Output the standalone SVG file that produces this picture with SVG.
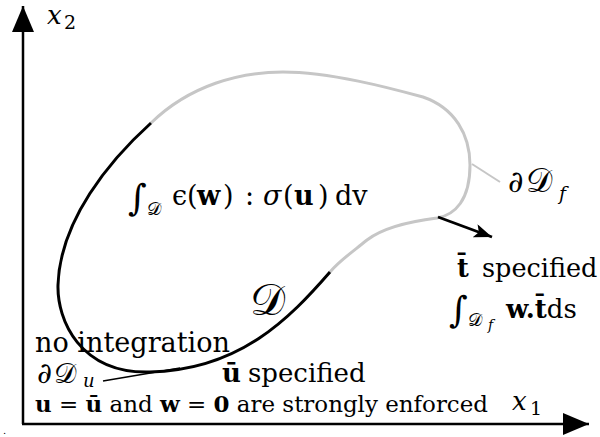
<svg xmlns="http://www.w3.org/2000/svg" width="600" height="437" viewBox="0 0 600 437">
<style>
text{font-family:'DejaVu Serif',serif;fill:#000}
.i{font-style:italic}
.b{font-weight:bold}
.ax{stroke:#000;stroke-width:2.5;fill:none}
.blk{stroke:#000;stroke-width:3;fill:none;stroke-linecap:butt}
.gry{stroke:#c6c6c6;stroke-width:3;fill:none}
</style>
<defs>
<marker id="ah" markerUnits="userSpaceOnUse" markerWidth="30" markerHeight="26" refX="26" refY="11" orient="auto">
<path d="M0,0 L26,11 L0,22 Z" fill="#000"/>
</marker>
<marker id="sh" markerUnits="userSpaceOnUse" markerWidth="22" markerHeight="16" refX="18" refY="7" orient="auto">
<path d="M0,0 L18,7 L0,14 L4,7 Z" fill="#000"/>
</marker>
</defs>
<g id="axes">
<path class="ax" d="M23,424 L23,6" marker-end="url(#ah)"/>
<path class="ax" d="M22,424 L589,424" marker-end="url(#ah)"/>
<text class="i" x="47" y="24" font-size="26">x</text>
<text x="64" y="29" font-size="19">2</text>
<text class="i" x="512" y="410" font-size="26">x</text>
<text x="530" y="415" font-size="19">1</text>
</g>
<g id="domain">
<path class="gry" d="M151,123 C190,85 240,72 283,72 C330,72 390,88 423,97 C455,108 470,135 470,165 C470,200 455,215 437,218 C405,222 380,230 367,240 C355,250 340,260 330,272"/>
<path class="blk" d="M330,272 C290,318 240,370 150,372 C80,374 57,320 58,285 C60,220 110,160 151,123"/>
<text x="250" y="315" font-size="44">𝒟</text>
</g>
<g id="connectors">
<line x1="472" y1="164" x2="500" y2="182" stroke="#c6c6c6" stroke-width="2"/>
<line x1="103" y1="381" x2="180" y2="368" stroke="#000" stroke-width="1.6"/>
<line x1="438" y1="217" x2="492" y2="237" stroke="#000" stroke-width="2.8" marker-end="url(#sh)"/>
</g>
<g id="volume-integral">
<text x="128" y="210" font-size="36">∫</text>
<text x="147" y="215" font-size="18">𝒟</text>
<text y="205" font-size="27"><tspan x="172">ϵ</tspan><tspan x="187">(</tspan><tspan x="197" class="b">w</tspan><tspan x="223">)</tspan><tspan x="245">:</tspan><tspan x="263" class="i">σ</tspan><tspan x="283">(</tspan><tspan x="294" class="b">u</tspan><tspan x="318">)</tspan><tspan x="335">dv</tspan></text>
</g>
<g id="traction-boundary">
<text class="i" x="508" y="192" font-size="30">∂</text>
<text x="526" y="192" font-size="33">𝒟</text>
<text class="i" x="559" y="200" font-size="19">f</text>
<text x="457" y="277" font-size="25.5"><tspan class="b">t̄</tspan><tspan x="482">specified</tspan></text>
<text x="449" y="322" font-size="36">∫</text>
<text x="468" y="326" font-size="18">𝒟</text>
<text class="i" x="488" y="330" font-size="14">f</text>
<text x="506" y="318" font-size="26"><tspan class="b">w.t̄</tspan><tspan>ds</tspan></text>
</g>
<g id="displacement-boundary">
<text x="35" y="352" font-size="27" textLength="195" lengthAdjust="spacingAndGlyphs">no integration</text>
<text class="i" x="37" y="383" font-size="29">∂</text>
<text x="54" y="383" font-size="28">𝒟</text>
<text class="i" x="83" y="387" font-size="18">u</text>
<text x="222" y="382" font-size="26"><tspan class="b">ū</tspan><tspan x="248">specified</tspan></text>
<text x="35" y="412" font-size="23" textLength="453" lengthAdjust="spacingAndGlyphs"><tspan class="b">u</tspan> = <tspan class="b">ū</tspan> and <tspan class="b">w</tspan> = <tspan class="b">0</tspan> are strongly enforced</text>
<text x="3" y="434" font-size="10">.</text>
</g>
</svg>
